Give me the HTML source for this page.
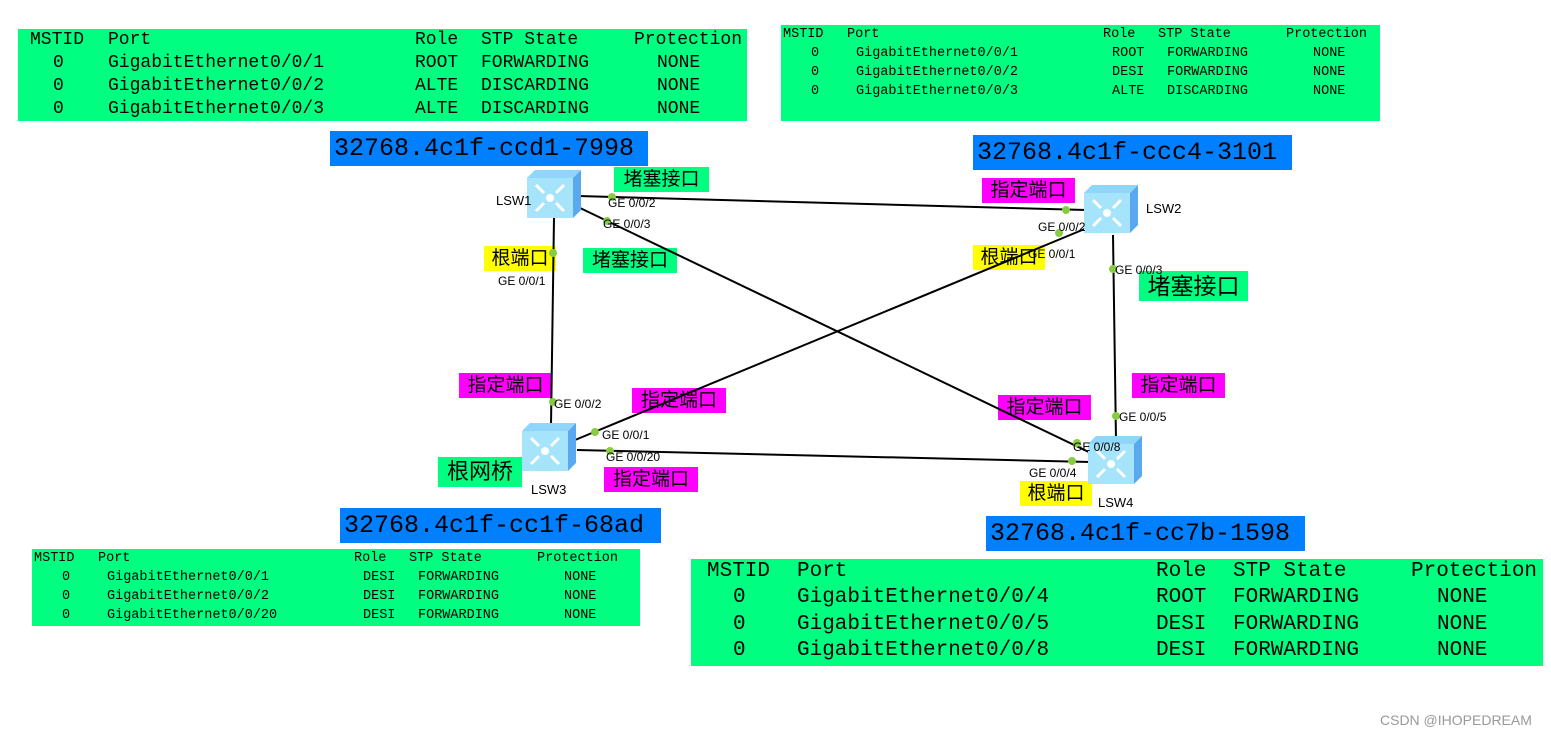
<!DOCTYPE html>
<html><head><meta charset="utf-8"><style>
body{margin:0;width:1551px;height:736px;background:#fff;position:relative;overflow:hidden;font-family:"Liberation Sans",sans-serif}
.t{position:absolute;background:#00ff80}
.b{position:absolute;background:#0080ff;font-family:"Liberation Mono",monospace;font-size:25px;line-height:35px;color:#000;padding-left:4px}
.l{position:absolute;font-family:"Liberation Sans","Noto Sans CJK SC",sans-serif;font-size:19px;line-height:25px;color:#000;text-align:center}
.g{background:#00ff80}.y{background:#ffff00}.m{background:#ff00ff}
.ge{position:absolute;font-size:12px;color:#000;white-space:nowrap}
svg{position:absolute;left:0;top:0}
</style></head><body>

<div class="t" style="left:18px;top:29px;width:729px;height:92px"></div>
<div class="t" style="left:781px;top:25px;width:599px;height:96px"></div>
<div class="t" style="left:32px;top:549px;width:608px;height:77px"></div>
<div class="t" style="left:691px;top:559px;width:852px;height:107px"></div>

<div style="position:absolute;left:0;top:0;font-family:'Liberation Mono',monospace;font-size:18px;line-height:23px">
<span style="position:absolute;left:30px;top:29px">MSTID</span><span style="position:absolute;left:108px;top:29px">Port</span><span style="position:absolute;left:415px;top:29px">Role</span><span style="position:absolute;left:481px;top:29px">STP&nbsp;State</span><span style="position:absolute;left:634px;top:29px">Protection</span>
<span style="position:absolute;left:53px;top:52px">0<br>0<br>0</span>
<span style="position:absolute;left:108px;top:52px">GigabitEthernet0/0/1<br>GigabitEthernet0/0/2<br>GigabitEthernet0/0/3</span>
<span style="position:absolute;left:415px;top:52px">ROOT<br>ALTE<br>ALTE</span>
<span style="position:absolute;left:481px;top:52px">FORWARDING<br>DISCARDING<br>DISCARDING</span>
<span style="position:absolute;left:657px;top:52px">NONE<br>NONE<br>NONE</span>
</div>

<div style="position:absolute;left:0;top:0;font-family:'Liberation Mono',monospace;font-size:13.5px;line-height:19px">
<span style="position:absolute;left:783px;top:25px">MSTID</span><span style="position:absolute;left:847px;top:25px">Port</span><span style="position:absolute;left:1103px;top:25px">Role</span><span style="position:absolute;left:1158px;top:25px">STP&nbsp;State</span><span style="position:absolute;left:1286px;top:25px">Protection</span>
<span style="position:absolute;left:811px;top:44px">0<br>0<br>0</span>
<span style="position:absolute;left:856px;top:44px">GigabitEthernet0/0/1<br>GigabitEthernet0/0/2<br>GigabitEthernet0/0/3</span>
<span style="position:absolute;left:1112px;top:44px">ROOT<br>DESI<br>ALTE</span>
<span style="position:absolute;left:1167px;top:44px">FORWARDING<br>FORWARDING<br>DISCARDING</span>
<span style="position:absolute;left:1313px;top:44px">NONE<br>NONE<br>NONE</span>
</div>

<div style="position:absolute;left:0;top:0;font-family:'Liberation Mono',monospace;font-size:13.5px;line-height:19px">
<span style="position:absolute;left:34px;top:549px">MSTID</span><span style="position:absolute;left:98px;top:549px">Port</span><span style="position:absolute;left:354px;top:549px">Role</span><span style="position:absolute;left:409px;top:549px">STP&nbsp;State</span><span style="position:absolute;left:537px;top:549px">Protection</span>
<span style="position:absolute;left:62px;top:568px">0<br>0<br>0</span>
<span style="position:absolute;left:107px;top:568px">GigabitEthernet0/0/1<br>GigabitEthernet0/0/2<br>GigabitEthernet0/0/20</span>
<span style="position:absolute;left:363px;top:568px">DESI<br>DESI<br>DESI</span>
<span style="position:absolute;left:418px;top:568px">FORWARDING<br>FORWARDING<br>FORWARDING</span>
<span style="position:absolute;left:564px;top:568px">NONE<br>NONE<br>NONE</span>
</div>

<div style="position:absolute;left:0;top:0;font-family:'Liberation Mono',monospace;font-size:21px;line-height:26.5px">
<span style="position:absolute;left:707px;top:559px">MSTID</span><span style="position:absolute;left:797px;top:559px">Port</span><span style="position:absolute;left:1156px;top:559px">Role</span><span style="position:absolute;left:1233px;top:559px">STP&nbsp;State</span><span style="position:absolute;left:1411px;top:559px">Protection</span>
<span style="position:absolute;left:733px;top:585px">0<br>0<br>0</span>
<span style="position:absolute;left:797px;top:585px">GigabitEthernet0/0/4<br>GigabitEthernet0/0/5<br>GigabitEthernet0/0/8</span>
<span style="position:absolute;left:1156px;top:585px">ROOT<br>DESI<br>DESI</span>
<span style="position:absolute;left:1233px;top:585px">FORWARDING<br>FORWARDING<br>FORWARDING</span>
<span style="position:absolute;left:1437px;top:585px">NONE<br>NONE<br>NONE</span>
</div>

<div class="b" style="left:330px;top:131px;width:314px">32768.4c1f-ccd1-7998</div>
<div class="b" style="left:973px;top:135px;width:315px">32768.4c1f-ccc4-3101</div>
<div class="b" style="left:340px;top:508px;width:317px">32768.4c1f-cc1f-68ad</div>
<div class="b" style="left:986px;top:516px;width:315px">32768.4c1f-cc7b-1598</div>

<div class="l g" style="left:614px;top:167px;width:95px">堵塞接口</div>
<div class="l g" style="left:583px;top:248px;width:94px">堵塞接口</div>
<div class="l y" style="left:484px;top:246px;width:72px">根端口</div>
<div class="l m" style="left:982px;top:178px;width:93px">指定端口</div>
<div class="l y" style="left:973px;top:245px;width:72px">根端口</div>
<div class="l g" style="left:1139px;top:271px;width:109px;height:30px;line-height:30px;font-size:23px">堵塞接口</div>
<div class="l m" style="left:459px;top:373px;width:93px">指定端口</div>
<div class="l m" style="left:632px;top:388px;width:94px">指定端口</div>
<div class="l m" style="left:998px;top:395px;width:93px">指定端口</div>
<div class="l m" style="left:1132px;top:373px;width:93px">指定端口</div>
<div class="l g" style="left:438px;top:457px;width:84px;height:30px;line-height:30px;font-size:22px">根网桥</div>
<div class="l m" style="left:604px;top:467px;width:94px">指定端口</div>
<div class="l y" style="left:1020px;top:481px;width:72px">根端口</div>

<svg width="1551" height="736">
<defs>
<g id="sw">
<polygon points="0,8 8,0 54,0 54,40 46,48 0,48" fill="#bfefff"/>
<polygon points="46,8 54,0 54,40 46,48" fill="#5aa8f0"/>
<polygon points="0,8 8,0 54,0 46,8" fill="#8fd6fa"/>
<rect x="0" y="8" width="46" height="40" fill="#a6e4fb"/>
<circle cx="23" cy="28" r="4" fill="#fff"/>
<path d="M9 15 l8 8 M37 15 l-8 8 M9 41 l8 -8 M37 41 l-8 -8" stroke="#fff" stroke-width="3"/>
</g>
</defs>
<g stroke="#000" stroke-width="2">
<line x1="578" y1="196" x2="1086" y2="210"/>
<line x1="578" y1="207" x2="1095" y2="455"/>
<line x1="554" y1="218" x2="551" y2="425"/>
<line x1="1087" y1="228" x2="575" y2="440"/>
<line x1="1113" y1="235" x2="1116" y2="440"/>
<line x1="577" y1="450" x2="1090" y2="462"/>
</g>
<use href="#sw" x="527" y="170"/>
<use href="#sw" x="1084" y="185"/>
<use href="#sw" x="522" y="423"/>
<use href="#sw" x="1088" y="436"/>
<g fill="#88cc44">
<circle cx="612" cy="197" r="4"/><circle cx="607" cy="221" r="4"/><circle cx="553" cy="253" r="4"/>
<circle cx="1066" cy="210" r="4"/><circle cx="1059" cy="233" r="4"/><circle cx="1113" cy="269" r="4"/>
<circle cx="553" cy="402" r="4"/><circle cx="595" cy="432" r="4"/><circle cx="610" cy="451" r="4"/>
<circle cx="1116" cy="416" r="4"/><circle cx="1077" cy="443" r="4"/><circle cx="1072" cy="461" r="4"/>
</g>
</svg>

<div class="ge" style="left:608px;top:196px">GE 0/0/2</div>
<div class="ge" style="left:603px;top:217px">GE 0/0/3</div>
<div class="ge" style="left:498px;top:274px">GE 0/0/1</div>
<div class="ge" style="left:1038px;top:220px">GE 0/0/2</div>
<div class="ge" style="left:1028px;top:247px">GE 0/0/1</div>
<div class="ge" style="left:1115px;top:263px">GE 0/0/3</div>
<div class="ge" style="left:554px;top:397px">GE 0/0/2</div>
<div class="ge" style="left:602px;top:428px">GE 0/0/1</div>
<div class="ge" style="left:606px;top:450px">GE 0/0/20</div>
<div class="ge" style="left:1119px;top:410px">GE 0/0/5</div>
<div class="ge" style="left:1073px;top:440px">GE 0/0/8</div>
<div class="ge" style="left:1029px;top:466px">GE 0/0/4</div>
<div class="ge" style="left:496px;top:193px;font-size:13px">LSW1</div>
<div class="ge" style="left:1146px;top:201px;font-size:13px">LSW2</div>
<div class="ge" style="left:531px;top:482px;font-size:13px">LSW3</div>
<div class="ge" style="left:1098px;top:495px;font-size:13px">LSW4</div>
<div class="ge" style="left:1380px;top:712px;font-size:14px;color:#999">CSDN @IHOPEDREAM</div>
</body></html>
